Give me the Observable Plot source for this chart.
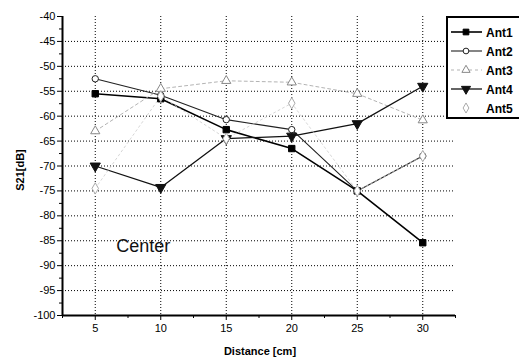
<!DOCTYPE html>
<html>
<head>
<meta charset="utf-8">
<script src="https://cdn.jsdelivr.net/npm/d3@7"></script>
<script src="https://cdn.jsdelivr.net/npm/@observablehq/plot@0.6"></script>
<style>
  html, body { margin: 0; padding: 0; background: #fff; }
  #chart { position: relative; width: 519px; height: 359px; overflow: hidden; }
  svg { font-family: "Liberation Sans", Arial, sans-serif; }
</style>
</head>
<body>
<div id="chart"></div>
<script>
const distance = [5, 10, 15, 20, 25, 30];
const ant1 = [-55.5, -56.5, -62.7, -66.5, -75, -85.4];
const ant2 = [-52.5, -55.8, -60.7, -62.7, -75, -68];
const ant3 = [-63, -54.5, -52.9, -53.2, -55.5, -60.8];
const ant4 = [-70, -74.3, -64.5, -64, -61.5, -54];
const ant5 = [-74.5, -56, -64.5, -57.4, -75, -68];
const seriesNames = ["Ant1", "Ant2", "Ant3", "Ant4", "Ant5"];
const yTicks = [-100, -95, -90, -85, -80, -75, -70, -65, -60, -55, -50, -45, -40];
const xTicks = [5, 10, 15, 20, 25, 30];
const annotation = "Center";
const xLabel = "Distance [cm]";
const yLabel = "S21[dB]";

const values = [ant1, ant2, ant3, ant4, ant5];
const styles = [
  {stroke: "#000", width: 1.6, dash: null, symbol: "square", fill: "#000", rotate: 0, r: 3.6, mstroke: "#000"},
  {stroke: "#222", width: 1.1, dash: null, symbol: "circle", fill: "#fff", rotate: 0, r: 3.2, mstroke: "#222"},
  {stroke: "#aaa", width: 0.9, dash: "3,3", symbol: "triangle", fill: "#fff", rotate: 0, r: 3.4, mstroke: "#888"},
  {stroke: "#111", width: 1.3, dash: null, symbol: "triangle", fill: "#111", rotate: 180, r: 3.8, mstroke: "#111"},
  {stroke: "#ccc", width: 0.8, dash: "2,3", symbol: "diamond", fill: "#fff", rotate: 0, r: 3.4, mstroke: "#aaa"}
];

const marks = [
  Plot.gridY(yTicks.filter(v => v > -100 && v < -40), {stroke: "#000", strokeOpacity: 1, strokeDasharray: "1,2", strokeWidth: 1}),
  Plot.gridX(xTicks, {stroke: "#000", strokeOpacity: 1, strokeDasharray: "1,2", strokeWidth: 1}),
  Plot.axisY(yTicks, {tickSize: 5, tickPadding: 2, fontSize: 11, label: null, tickFormat: d => String(d)}),
  Plot.axisY(d3.range(-97.5, -40, 5), {tickSize: 3, text: null, label: null}),
  Plot.axisX(xTicks, {tickSize: 5, tickPadding: 4, fontSize: 11, label: null}),
  Plot.axisX([2.5, 7.5, 12.5, 17.5, 22.5, 27.5, 32.5], {tickSize: 3, text: null, label: null}),
  Plot.ruleX([2.5], {stroke: "#000", strokeWidth: 2}),
  Plot.ruleY([-100], {stroke: "#000", strokeWidth: 2})
];

values.forEach((vals, i) => {
  const s = styles[i];
  const rows = distance.map((d, j) => ({x: d, y: vals[j]}));
  marks.push(Plot.line(rows, {x: "x", y: "y", stroke: s.stroke, strokeWidth: s.width, strokeDasharray: s.dash}));
});
values.forEach((vals, i) => {
  const s = styles[i];
  const rows = distance.map((d, j) => ({x: d, y: vals[j]}));
  marks.push(Plot.dot(rows, {x: "x", y: "y", symbol: s.symbol, r: s.r, fill: s.fill, stroke: s.mstroke, strokeWidth: 1, rotate: s.rotate}));
});

marks.push(Plot.text([annotation], {x: 6.6, y: -86.2, text: d => d, textAnchor: "start", fontSize: 18, fill: "#111"}));

const plot = Plot.plot({
  width: 519,
  height: 359,
  marginLeft: 62,
  marginRight: 64,
  marginTop: 16,
  marginBottom: 44,
  x: {domain: [2.5, 32.5]},
  y: {domain: [-100, -40]},
  style: {fontFamily: "'Liberation Sans', Arial, sans-serif", color: "#000", background: "#fff"},
  marks
});

const svg = d3.select(plot);
// axis titles
svg.append("text")
  .attr("x", 260).attr("y", 355)
  .attr("text-anchor", "middle")
  .attr("font-size", 11).attr("font-weight", "bold")
  .attr("fill", "#000")
  .text(xLabel);
svg.append("text")
  .attr("transform", "translate(24,170) rotate(-90)")
  .attr("text-anchor", "middle")
  .attr("font-size", 11).attr("font-weight", "bold")
  .attr("fill", "#000")
  .text(yLabel);

// legend
const lg = svg.append("g");
lg.append("rect").attr("x", 447).attr("y", 17).attr("width", 80).attr("height", 101)
  .attr("fill", "#fff").attr("stroke", "#000").attr("stroke-width", 2);
const symbolMap = {square: d3.symbolSquare, circle: d3.symbolCircle, triangle: d3.symbolTriangle, diamond: d3.symbolDiamond};
seriesNames.forEach((name, i) => {
  const s = styles[i];
  const cy = 32 + i * 19;
  if (i !== 4) {
    lg.append("line").attr("x1", 451).attr("x2", 482).attr("y1", cy).attr("y2", cy)
      .attr("stroke", s.stroke).attr("stroke-width", s.width).attr("stroke-dasharray", s.dash);
  }
  const area = Math.PI * s.r * s.r * 0.8;
  lg.append("path")
    .attr("d", d3.symbol(symbolMap[s.symbol], area)())
    .attr("transform", `translate(466,${cy}) rotate(${s.rotate})`)
    .attr("fill", s.fill).attr("stroke", s.mstroke).attr("stroke-width", 1);
  lg.append("text").attr("x", 486).attr("y", cy + 4.5)
    .attr("text-anchor", "start")
    .attr("font-size", 12).attr("font-weight", "bold").attr("fill", "#000")
    .text(name);
});

document.getElementById("chart").appendChild(plot);
</script>
</body>
</html>
